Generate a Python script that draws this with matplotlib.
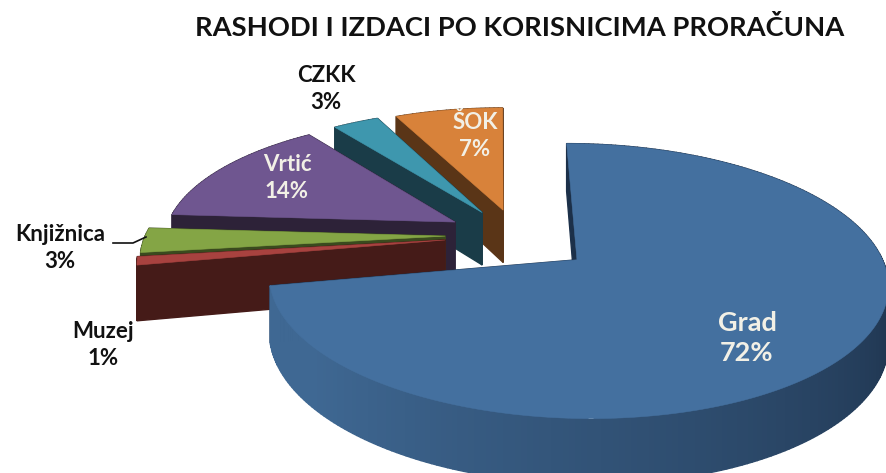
import numpy as np
import matplotlib
matplotlib.use("Agg")
import matplotlib.pyplot as plt
from matplotlib.colors import to_rgb

title = "RASHODI I IZDACI PO KORISNICIMA PRORAČUNA"
categories = ["Grad", "Muzej", "Knjižnica", "Vrtić", "CZKK", "ŠOK"]
values = [72, 1, 3, 14, 3, 7]
offset_u = [0.257, -0.188, -0.188, -0.157, -0.063, 0.011]
offset_v = [-0.17, -0.016, 0.015, 0.13, 0.21, 0.23]
radius = [1.02, 1.035, 1.03, 1.0, 1.0, 1.0]
top_colors = ["#44709F", "#A8423F", "#84A545", "#6F5690", "#3E97AE", "#D8823A"]
wall_colors = ["#1C3049", "#451B18", "#3A4A1E", "#2D2238", "#1A3C48", "#5A3517"]
rim_light = ["#3F6893", "#451B18", "#3A4A1E", "#2D2238", "#1A3C48", "#5A3517"]

CX, CY, A, B, P, D = 500, 238, 292, 125, 0.148, 54

plt.rcParams["font.family"] = ["Lato", "DejaVu Sans"]
fig = plt.figure(figsize=(8.86, 4.73), dpi=100, facecolor="white")
ax = fig.add_axes([0, 0, 1, 1])
ax.set_xlim(0, 886)
ax.set_ylim(473, 0)
ax.axis("off")


def project(u, v, drop=0.0):
    s = 1 / (1 + P * v)
    return CX + A * u * s, CY - B * v * s + drop * s


def mix(c1, c2, f):
    a, b = np.array(to_rgb(c1)), np.array(to_rgb(c2))
    return tuple(a + (b - a) * f)


total = sum(values)
start = 0.0
items = []
for i, val in enumerate(values):
    end = start + val / total * 2 * np.pi
    items.append((i, start, end))
    start = end

# back to front: the last slices sit at the back
for i, t0, t1 in reversed(items):
    ax0, ay0 = offset_u[i], offset_v[i]
    ts = np.linspace(t0, t1, max(6, int((t1 - t0) * 60)))
    us, vs = ax0 + radius[i] * np.sin(ts), ay0 + radius[i] * np.cos(ts)

    walls = []
    for tu, tv in [(us[0], vs[0]), (us[-1], vs[-1])]:
        walls.append(((tv + ay0) / 2, [(ax0, ay0), (tu, tv)], wall_colors[i]))
    for j in range(len(ts) - 1):
        f = np.clip(((j + 0.5) / (len(ts) - 1) - 0.35) / 0.55, 0, 1)
        col = mix(wall_colors[i], rim_light[i], f)
        walls.append(((vs[j] + vs[j + 1]) / 2,
                      [(us[j], vs[j]), (us[j + 1], vs[j + 1])], col))
    walls.sort(key=lambda w: -w[0])
    for _, pts, col in walls:
        top = [project(u, v) for u, v in pts]
        bot = [project(u, v, D) for u, v in reversed(pts)]
        ax.fill(*zip(*(top + bot)), color=col, lw=1.0, ec=col)

    poly = [project(ax0, ay0)] + [project(u, v) for u, v in zip(us, vs)]
    ax.fill(*zip(*poly), color=top_colors[i], lw=0.4, ec=top_colors[i])

dark, light = "#111111", "#F2F0E6"
ax.text(520, 27, title, ha="center", va="center", fontsize=19.7, fontweight="bold", color=dark)
labels = [
    (747, 338, light, 0), (103, 345, dark, 1), (60, 248, dark, 2),
    (287, 178, light, 3), (326, 89, dark, 4), (475, 136, light, 5),
]
for x, y, c, i in labels:
    big = i == 0
    ax.text(x, y, f"{categories[i]}\n{values[i]}%", ha="center", va="center",
            fontsize=19.5 if big else 16, fontweight="bold", color=c,
            linespacing=1.3 if big else 1.38)
ax.plot([113, 133, 146], [243, 243, 237], color="#111111", lw=1.2)

fig.savefig("out.png", dpi=100)
